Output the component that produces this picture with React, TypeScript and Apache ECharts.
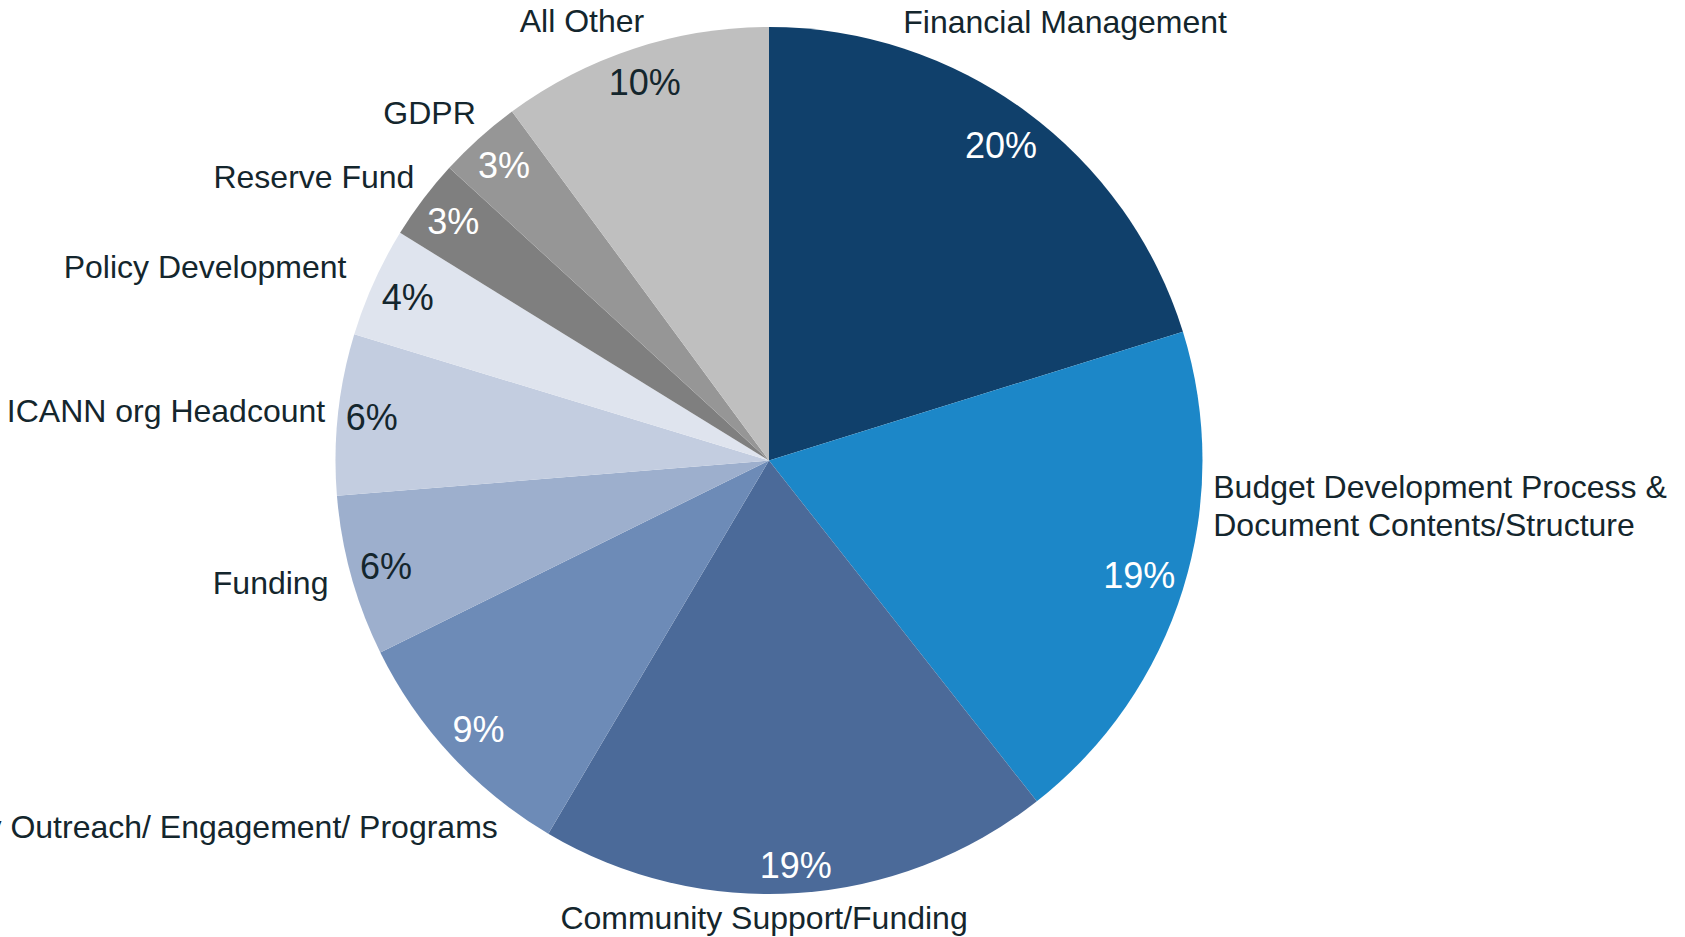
import React, { useEffect, useRef } from 'react';
import * as echarts from 'echarts';

// ---- data ----
const categories: string[] = [
  'Financial Management',
  'Budget Development Process &\nDocument Contents/Structure',
  'Community Support/Funding',
  'Community Outreach/ Engagement/ Programs',
  'Funding',
  'ICANN org Headcount',
  'Policy Development',
  'Reserve Fund',
  'GDPR',
  'All Other',
];
const shares: number[] = [20.2, 19.2, 19.1, 9.2, 6.0, 6.0, 4.1, 3.0, 3.1, 10.1];

// ---- styles ----
const sliceColors = [
  '#10406b', '#1c87c8', '#4b6a99', '#6d8bb7', '#9dafcd',
  '#c3cde0', '#dfe4ee', '#7f7f7f', '#969696', '#bfbfbf',
];
const DARK = '#14262d';
const percentColors = [
  '#ffffff', '#ffffff', '#ffffff', '#ffffff', DARK,
  DARK, DARK, '#ffffff', '#ffffff', DARK,
];
// label placement tweaks: [angle offset (deg), gap from rim (px)]
const nameTweak: [number, number][] = [
  [-2.3, 6.5], [-13.4, 10.8], [4.4, 4.5], [11.45, 7.1], [1.7, 19],
  [-1.4, 11.4], [-5.4, 23.5], [-5.2, 8.6], [-2.4, 6.7], [-4.9, 4.7],
];

const CX = 769;
const CY = 460.5;
const R = 433.5;
const FONT = "'Liberation Sans', Arial, Helvetica, sans-serif";

function midAngles(vals: number[]): number[] {
  const total = vals.reduce((a, b) => a + b, 0);
  let cum = 0;
  return vals.map((v) => {
    const m = ((cum + v / 2) / total) * 360;
    cum += v;
    return m;
  });
}

function placeOutside(angleDeg: number, gap: number, w: number, h: number) {
  const t = (angleDeg * Math.PI) / 180;
  const ux = Math.sin(t);
  const uy = -Math.cos(t);
  let lo = 0;
  let hi = 3000;
  for (let k = 0; k < 60; k++) {
    const d = (lo + hi) / 2;
    const dx = Math.max(Math.abs(ux * d) - w / 2, 0);
    const dy = Math.max(Math.abs(uy * d) - h / 2, 0);
    if (Math.hypot(dx, dy) >= R + gap) hi = d;
    else lo = d;
  }
  return [CX + ux * hi, CY + uy * hi];
}

function placeInside(angleDeg: number, gap: number, w: number, h: number) {
  const t = (angleDeg * Math.PI) / 180;
  const ux = Math.sin(t);
  const uy = -Math.cos(t);
  let lo = 0;
  let hi = R;
  for (let k = 0; k < 60; k++) {
    const d = (lo + hi) / 2;
    const far = Math.hypot(Math.abs(ux * d) + w / 2, Math.abs(uy * d) + h / 2);
    if (far <= R - gap) lo = d;
    else hi = d;
  }
  return [CX + ux * lo, CY + uy * lo];
}

export default function App() {
  const ref = useRef<HTMLDivElement>(null);
  useEffect(() => {
    if (!ref.current) return;
    const chart = echarts.init(ref.current, undefined, { renderer: 'svg' });
    const mids = midAngles(shares);
    const data = categories.map((name, i) => ({
      name,
      value: shares[i],
      itemStyle: { color: sliceColors[i] },
    }));
    const pctData = categories.map((name, i) => ({
      name,
      value: shares[i],
      itemStyle: { color: 'rgba(0,0,0,0)' },
      label: { color: percentColors[i] },
    }));
    chart.setOption({
      animation: false,
      backgroundColor: '#ffffff',
      series: [
        {
          type: 'pie',
          center: [CX, CY],
          radius: [0, R],
          startAngle: 90,
          clockwise: true,
          avoidLabelOverlap: false,
          silent: true,
          data,
          label: {
            show: true,
            position: 'inside',
            formatter: '{b}',
            color: DARK,
            fontFamily: FONT,
            fontSize: 32,
            lineHeight: 38,
          },
          labelLine: { show: false },
          labelLayout: (p: any) => {
            const i = p.dataIndex;
            const w = p.labelRect.width;
            const h = p.labelRect.height;
            const [x, y] = placeOutside(mids[i] + nameTweak[i][0], nameTweak[i][1], w, h);
            return { x: x - w / 2, y, align: 'left', verticalAlign: 'middle' };
          },
        },
        {
          type: 'pie',
          center: [CX, CY],
          radius: [0, R],
          startAngle: 90,
          clockwise: true,
          avoidLabelOverlap: false,
          silent: true,
          data: pctData,
          label: {
            show: true,
            position: 'inside',
            formatter: (p: any) => `${Math.round(p.value)}%`,
            fontFamily: FONT,
            fontSize: 36,
            lineHeight: 36,
          },
          labelLine: { show: false },
          labelLayout: (p: any) => {
            const i = p.dataIndex;
            const w = p.labelRect.width;
            const h = p.labelRect.height;
            const [x, y] = placeInside(mids[i], 6, w, h);
            return { x, y, align: 'center', verticalAlign: 'middle' };
          },
        },
      ],
    });
    return () => chart.dispose();
  }, []);
  return (
    <div
      ref={ref}
      style={{ position: 'absolute', left: 0, top: 0, width: 1685, height: 937 }}
    />
  );
}
